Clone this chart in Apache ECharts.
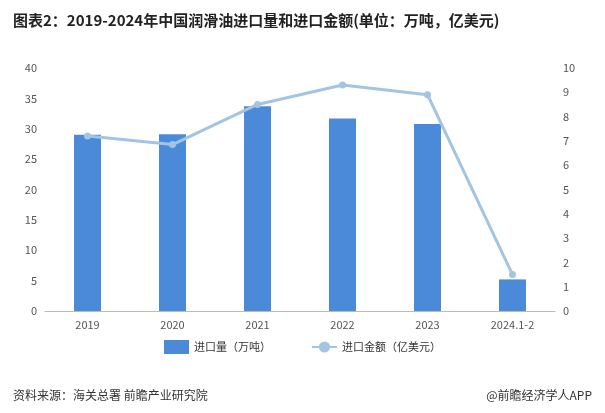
<!DOCTYPE html>
<html>
<head>
<meta charset="utf-8">
<script src="https://cdn.jsdelivr.net/npm/echarts@6/dist/echarts.min.js"></script>
<style>
html, body { margin: 0; padding: 0; background: #fff; }
#chart { width: 605px; height: 413px; }
</style>
</head>
<body>
<div id="chart"></div>
<script>
var years = ["2019", "2020", "2021", "2022", "2023", "2024.1-2"];
var importVolume = [29.0, 29.1, 33.7, 31.7, 30.8, 5.2];
var importValue = [7.2, 6.85, 8.5, 9.3, 8.9, 1.5];

var chart = echarts.init(document.getElementById("chart"));

var option = {
  animation: false,
  textStyle: { fontFamily: "Noto Sans CJK SC" },
  title: [
    {
      text: "图表2：2019-2024年中国润滑油进口量和进口金额(单位：万吨，亿美元)",
      left: 8,
      top: 8,
      textStyle: { fontSize: 15, fontWeight: "bold", color: "#222" }
    },
    {
      text: "资料来源：海关总署 前瞻产业研究院",
      left: 8,
      top: 384,
      textStyle: { fontSize: 12, fontWeight: "normal", color: "#333" }
    },
    {
      text: "@前瞻经济学人APP",
      right: 8,
      top: 384,
      textStyle: { fontSize: 12, fontWeight: "normal", color: "#333" }
    }
  ],
  grid: { left: 45, right: 50, top: 68, bottom: 102 },
  legend: {
    bottom: 54,
    left: "center",
    itemGap: 40,
    textStyle: { fontSize: 11, color: "#333" },
    data: [
      { name: "进口量（万吨）", icon: "rect" },
      { name: "进口金额（亿美元）" }
    ]
  },
  xAxis: {
    type: "category",
    data: years,
    axisTick: { show: false },
    axisLine: { lineStyle: { color: "#bbb" } },
    axisLabel: { color: "#555", fontSize: 11 }
  },
  yAxis: [
    {
      type: "value",
      min: 0,
      max: 40,
      interval: 5,
      splitLine: { show: false },
      axisLine: { show: false },
      axisLabel: { color: "#555", fontSize: 11 }
    },
    {
      type: "value",
      min: 0,
      max: 10,
      interval: 1,
      splitLine: { show: false },
      axisLine: { show: false },
      axisLabel: { color: "#555", fontSize: 11 }
    }
  ],
  series: [
    {
      name: "进口量（万吨）",
      type: "bar",
      data: importVolume,
      barWidth: 27,
      itemStyle: { color: "#4a8ad8" }
    },
    {
      name: "进口金额（亿美元）",
      type: "line",
      yAxisIndex: 1,
      data: importValue,
      symbol: "circle",
      symbolSize: 7,
      lineStyle: { color: "#a3c4e3", width: 3 },
      itemStyle: { color: "#a3c4e3" }
    }
  ]
};
chart.setOption(option);
</script>
</body>
</html>
